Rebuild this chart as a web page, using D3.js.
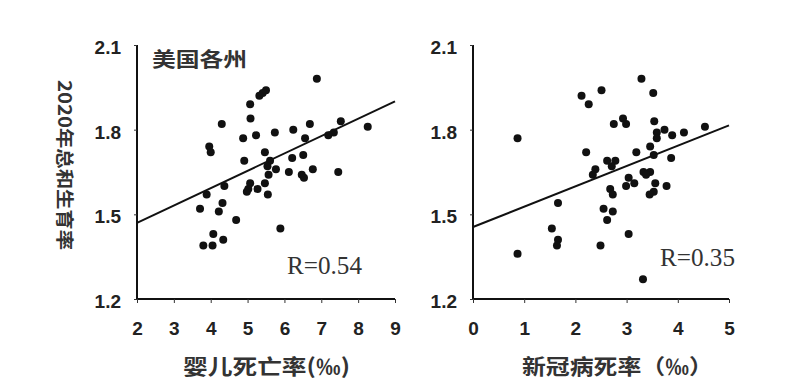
<!DOCTYPE html>
<html>
<head>
<meta charset="utf-8">
<script src="https://cdn.jsdelivr.net/npm/d3@7"></script>
<style>
  body { margin: 0; background: #fff; }
  svg { display: block; }
  .tick text { font-family: "Liberation Sans", Arial, sans-serif; font-weight: bold; font-size: 19px; fill: #222; }
  .cjk { font-family: "Noto Sans CJK SC", sans-serif; font-weight: bold; fill: #333; }
  .rlab { font-family: "Liberation Serif", serif; font-size: 25px; fill: #333; }
</style>
</head>
<body>
<div class="chart"></div>
<script>
// infant mortality (‰) vs 2020 TFR
var infantX = [6.88, 5.50, 5.41, 5.32, 5.07, 5.08, 4.30, 7.53, 8.26, 6.69, 6.24, 5.74, 4.88, 5.23, 6.56, 7.34, 7.19,
  3.96, 4.00, 5.47, 4.91, 5.61, 6.21, 6.51, 5.54, 5.77, 5.57, 6.12, 6.47, 6.53, 6.77, 7.46, 4.37, 3.89, 5.07, 5.02,
  4.98, 5.27, 5.47, 5.55, 3.71, 4.32, 4.22, 4.69, 5.89, 4.07, 4.34, 3.80, 4.05];
var infantY = [1.98, 1.94, 1.93, 1.92, 1.89, 1.84, 1.82, 1.83, 1.81, 1.82, 1.80, 1.79, 1.77, 1.78, 1.77, 1.79, 1.78,
  1.74, 1.72, 1.72, 1.69, 1.69, 1.70, 1.71, 1.67, 1.66, 1.64, 1.65, 1.64, 1.63, 1.66, 1.65, 1.60, 1.57, 1.61, 1.59,
  1.58, 1.59, 1.61, 1.57, 1.52, 1.54, 1.51, 1.48, 1.45, 1.43, 1.41, 1.39, 1.39];

// covid death rate (‰) vs 2020 TFR
var covidX = [3.29, 2.51, 3.52, 2.12, 2.26, 2.93, 2.99, 2.75, 3.54, 3.59, 3.74, 3.89, 4.12, 4.53, 3.59, 0.87, 3.46,
  2.21, 3.19, 3.53, 3.87, 2.62, 2.78, 2.71, 2.39, 2.34, 3.04, 3.33, 3.46, 3.38, 3.15, 2.99, 3.56, 3.78, 3.53, 3.45,
  2.68, 2.73, 1.66, 2.55, 2.73, 2.62, 1.54, 1.66, 1.64, 3.04, 2.49, 0.87, 3.32];
var covidY = [1.98, 1.94, 1.93, 1.92, 1.89, 1.84, 1.82, 1.82, 1.83, 1.79, 1.80, 1.78, 1.79, 1.81, 1.77, 1.77, 1.74,
  1.72, 1.72, 1.71, 1.70, 1.69, 1.69, 1.67, 1.66, 1.64, 1.63, 1.65, 1.65, 1.64, 1.61, 1.60, 1.61, 1.60, 1.58, 1.57,
  1.59, 1.57, 1.54, 1.52, 1.51, 1.48, 1.45, 1.41, 1.39, 1.43, 1.39, 1.36, 1.27];

var infantFit = [[2, 1.47], [9, 1.90]];
var covidFit = [[0, 1.455], [5, 1.815]];

var yTicks = [1.2, 1.5, 1.8, 2.1];
var infantTicks = [2, 3, 4, 5, 6, 7, 8, 9];
var covidTicks = [0, 1, 2, 3, 4, 5];

var svg = d3.select('.chart').append('svg')
  .attr('width', 800)
  .attr('height', 392);

var y = d3.scaleLinear().domain([1.2, 2.1]).range([299, 45]);

var drawPanel = function(opts){
  var x = d3.scaleLinear().domain(opts.domain).range(opts.range);
  var g = svg.append('g');

  var xAxis = g.append('g')
    .attr('transform', 'translate(0,299)')
    .call(d3.axisBottom(x).tickValues(opts.ticks).tickFormat(d3.format('d')).tickSize(4).tickPadding(19));
  var yAxis = g.append('g')
    .attr('transform', 'translate(' + opts.range[0] + ',0)')
    .call(d3.axisLeft(y).tickValues(yTicks).tickFormat(d3.format('.1f')).tickSize(3).tickPadding(13));

  [xAxis, yAxis].forEach(function(a){
    a.select('.domain').attr('stroke', '#111').attr('stroke-width', 2);
    a.selectAll('.tick line').attr('stroke', '#333').attr('stroke-width', 1);
  });
  xAxis.select('.domain').attr('d', 'M' + opts.range[0] + ',0H' + opts.range[1]);
  yAxis.select('.domain').attr('d', 'M0,' + y(1.2) + 'V' + y(2.1));
  yAxis.selectAll('.tick text').attr('dy', '0.45em');

  var pts = d3.zip(opts.xs, opts.ys);
  g.selectAll('circle.dot')
    .data(pts)
    .enter()
    .append('circle')
    .attr('class', 'dot')
    .attr('cx', function(d){ return x(d[0]); })
    .attr('cy', function(d){ return y(d[1]); })
    .attr('r', 4)
    .attr('fill', '#111');

  g.append('path')
    .datum(opts.fit)
    .attr('fill', 'none')
    .attr('stroke', '#111')
    .attr('stroke-width', 2)
    .attr('d', d3.line().x(function(d){ return x(d[0]); }).y(function(d){ return y(d[1]); }));

  g.append('text')
    .attr('class', 'rlab')
    .attr('x', opts.rPos[0])
    .attr('y', opts.rPos[1])
    .attr('textLength', 75)
    .attr('lengthAdjust', 'spacingAndGlyphs')
    .text(opts.rText);

  g.append('text')
    .attr('class', 'cjk')
    .attr('x', opts.titlePos[0])
    .attr('y', 374)
    .attr('font-size', 21)
    .attr('textLength', opts.titleLen)
    .attr('lengthAdjust', 'spacingAndGlyphs')
    .text(opts.title);
};

drawPanel({
  domain: [2, 9], range: [137, 395], ticks: infantTicks,
  xs: infantX, ys: infantY, fit: infantFit,
  rText: 'R=0.54', rPos: [287, 274],
  title: '婴儿死亡率(‰)', titlePos: [183], titleLen: 167
});

drawPanel({
  domain: [0, 5], range: [473, 729], ticks: covidTicks,
  xs: covidX, ys: covidY, fit: covidFit,
  rText: 'R=0.35', rPos: [660, 266],
  title: '新冠病死率（‰）', titlePos: [522], titleLen: 191
});

svg.append('text')
  .attr('class', 'cjk')
  .attr('x', 152)
  .attr('y', 67)
  .attr('font-size', 20)
  .attr('textLength', 95)
  .attr('lengthAdjust', 'spacingAndGlyphs')
  .text('美国各州');

svg.append('text')
  .attr('class', 'cjk')
  .attr('transform', 'translate(58,80) rotate(90)')
  .attr('font-size', 18)
  .attr('textLength', 170)
  .attr('lengthAdjust', 'spacingAndGlyphs')
  .text('2020年总和生育率');
</script>
</body>
</html>
